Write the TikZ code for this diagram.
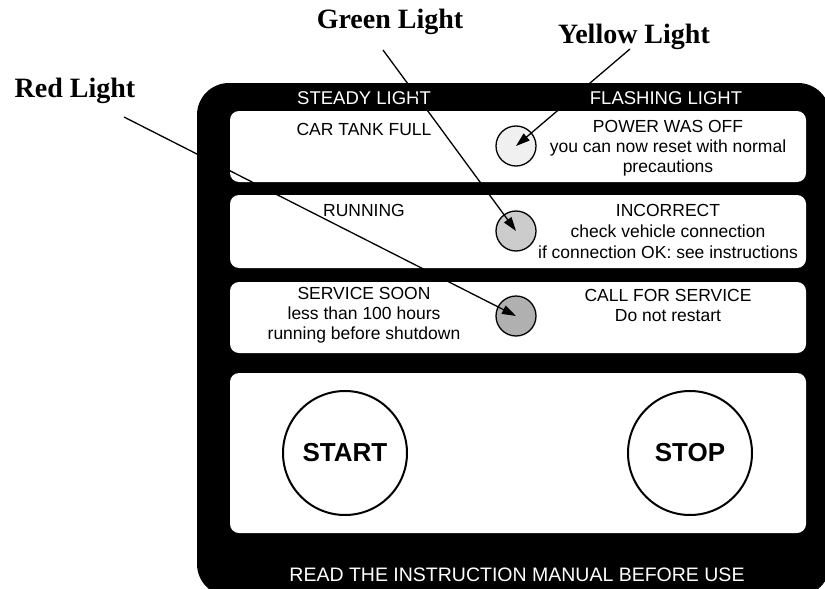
\documentclass[tikz,border=0pt]{standalone}
\usepackage{fontspec}
\setmainfont{Liberation Serif}
\newfontfamily\panelfont{Liberation Sans}
\usetikzlibrary{arrows.meta,positioning}

\begin{document}
\begin{tikzpicture}[x=1pt,y=-1pt,node distance=85pt,on grid,font=\panelfont\fontsize{17.5}{20}\selectfont]
	\tikzstyle{window}=[fill=white,rounded corners=9pt]
	\tikzstyle{lamp}=[circle,draw,line width=1.3pt,minimum size=40pt,inner sep=0pt]
	\tikzstyle{button}=[circle,draw,line width=2pt,minimum size=124pt,inner sep=0pt,font=\panelfont\bfseries\fontsize{26}{30}\selectfont]
	\tikzstyle{callout}=[anchor=base,font=\rmfamily\bfseries\fontsize{28}{30}\selectfont]
	\tikzstyle{legend}=[text=white,font=\panelfont\fontsize{18.5}{20}\selectfont]
	\tikzstyle{pointer}=[-{Triangle[length=14pt,width=9pt]},line width=1.3pt]

	\useasboundingbox (0,0) rectangle (825,589);

	% black panel with its windows
	\fill[rounded corners=32pt] (197,83) rectangle (830,596);
	\foreach \top/\bot in {111/182,195/268,282/353,373/533}
		\fill[window] (230,\top) rectangle (806,\bot);

	\node[legend] (STEADY) at (364,98) {STEADY LIGHT};
	\node[legend] (FLASHING) at (666,98) {FLASHING LIGHT};

	\node[lamp,fill=gray!12] (YL) at (516,146) {};
	\node[lamp,fill=gray!40] (GL) [below of=YL] {};
	\node[lamp,fill=gray!62] (RL) [below of=GL] {};

	\node (TANK) at (364,129) {CAR TANK FULL};
	\node[align=center] (POWER) at (668,148) {POWER WAS OFF\\you can now reset with normal\\precautions};
	\node (RUN) at (364,210) {RUNNING};
	\node[align=center,font=\panelfont\fontsize{17.5}{21}\selectfont] (WRONG) at (668,231) {INCORRECT\\check vehicle connection\\if connection OK: see instructions};
	\node[align=center] (SOON) at (364,315) {SERVICE SOON\\less than 100 hours\\running before shutdown};
	\node[align=center] (CALL) at (668,305) {CALL FOR SERVICE\\Do not restart};

	\node[button] (START) at (345,453) {START};
	\node[button] (STOP) at (690,453) {STOP};

	\node[legend,font=\panelfont\fontsize{19.5}{22}\selectfont] (MANUAL) at (517,575) {READ THE INSTRUCTION MANUAL BEFORE USE};

	% callouts
	\node[callout] (GREEN) at (390,28) {Green Light};
	\node[callout] (YELLOW) at (634,43) {Yellow Light};
	\node[callout] (RED) at (75,97) {Red Light};
	\coordinate (GFROM) at (383,50);
	\coordinate (YFROM) at (630,49);
	\coordinate (RFROM) at (124,117);

	\path[pointer]
	(GFROM) edge (GL.center)
	(YFROM) edge (YL.center)
	(RFROM) edge (RL.center);
\end{tikzpicture}
\end{document}
